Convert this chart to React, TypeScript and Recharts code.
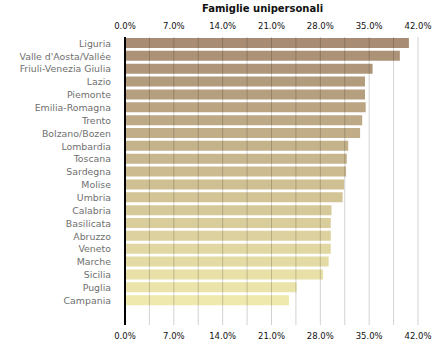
import { Bar, Cell, ComposedChart, Line, ReferenceLine, XAxis, YAxis } from "recharts"

const regions = [
  "Liguria",
  "Valle d'Aosta/Vallée",
  "Friuli-Venezia Giulia",
  "Lazio",
  "Piemonte",
  "Emilia-Romagna",
  "Trento",
  "Bolzano/Bozen",
  "Lombardia",
  "Toscana",
  "Sardegna",
  "Molise",
  "Umbria",
  "Calabria",
  "Basilicata",
  "Abruzzo",
  "Veneto",
  "Marche",
  "Sicilia",
  "Puglia",
  "Campania",
]

const values = [
  40.7, 39.4, 35.5, 34.4, 34.4, 34.5, 34.0, 33.7, 32.0, 31.8, 31.7, 31.4, 31.2, 29.6, 29.5, 29.5, 29.5,
  29.2, 28.4, 24.6, 23.5,
]

const ticks = [0, 7, 14, 21, 28, 35, 42]
const gridTicks = [3.5, 7, 10.5, 14, 17.5, 21, 24.5, 28, 31.5, 35, 38.5, 42]

const data = regions.map((name, i) => ({ name, value: values[i] }))

const dark = [168, 141, 116]
const light = [239, 233, 173]
const colorAt = (i: number) => {
  const t = i / (regions.length - 1)
  const c = dark.map((d, k) => Math.round(d + (light[k] - d) * t))
  return `rgb(${c[0]}, ${c[1]}, ${c[2]})`
}

const fmt = (v: number) => `${v.toFixed(1)}%`
const font = "'DejaVu Sans', Verdana, sans-serif"

const RegionTick = ({ x, y, payload }: any) => (
  <text x={x} y={y} dy="0.35em" textAnchor="end" fontSize={9.4} fill="#707070" fontFamily={font}>
    {payload.value}
  </text>
)

export default function App() {
  return (
    <div style={{ position: "absolute", left: 0, top: 0, width: 438, height: 362, background: "#fff" }}>
      <div
        style={{
          position: "absolute",
          top: 3,
          left: 116,
          width: 293,
          textAlign: "center",
          fontFamily: font,
          fontSize: 10,
          fontWeight: "bold",
          color: "#111",
        }}
      >
        Famiglie unipersonali
      </div>
      <ComposedChart
        width={438}
        height={362}
        data={data}
        layout="vertical"
        margin={{ top: 15, right: 20, left: 0, bottom: 12 }}
        barSize={10}
      >
        <XAxis
          xAxisId="top"
          orientation="top"
          type="number"
          domain={[0, 42]}
          ticks={ticks}
          tickFormatter={fmt}
          height={22}
          axisLine={false}
          tickLine={false}
          tick={{ fontSize: 8.5, fill: "#111", fontFamily: font }}
        />
        <XAxis
          xAxisId="bottom"
          orientation="bottom"
          type="number"
          domain={[0, 42]}
          ticks={ticks}
          tickFormatter={fmt}
          height={25}
          axisLine={false}
          tickLine={false}
          tick={{ fontSize: 8.5, fill: "#111", fontFamily: font }}
        />
        <YAxis
          type="category"
          dataKey="name"
          width={125}
          padding={{ top: 0, bottom: 18 }}
          axisLine={{ stroke: "#000", strokeWidth: 2 }}
          tickLine={false}
          tickMargin={8}
          interval={0}
          tick={<RegionTick />}
        />
        <Bar xAxisId="top" dataKey="value" isAnimationActive={false}>
          {data.map((d, i) => (
            <Cell key={d.name} fill={colorAt(i)} />
          ))}
        </Bar>
        <Line xAxisId="bottom" dataKey="value" stroke="none" dot={false} activeDot={false} isAnimationActive={false} />
        {gridTicks.map((t) => (
          <ReferenceLine key={t} xAxisId="top" x={t} stroke="rgba(0,0,0,0.18)" />
        ))}
      </ComposedChart>
    </div>
  )
}
